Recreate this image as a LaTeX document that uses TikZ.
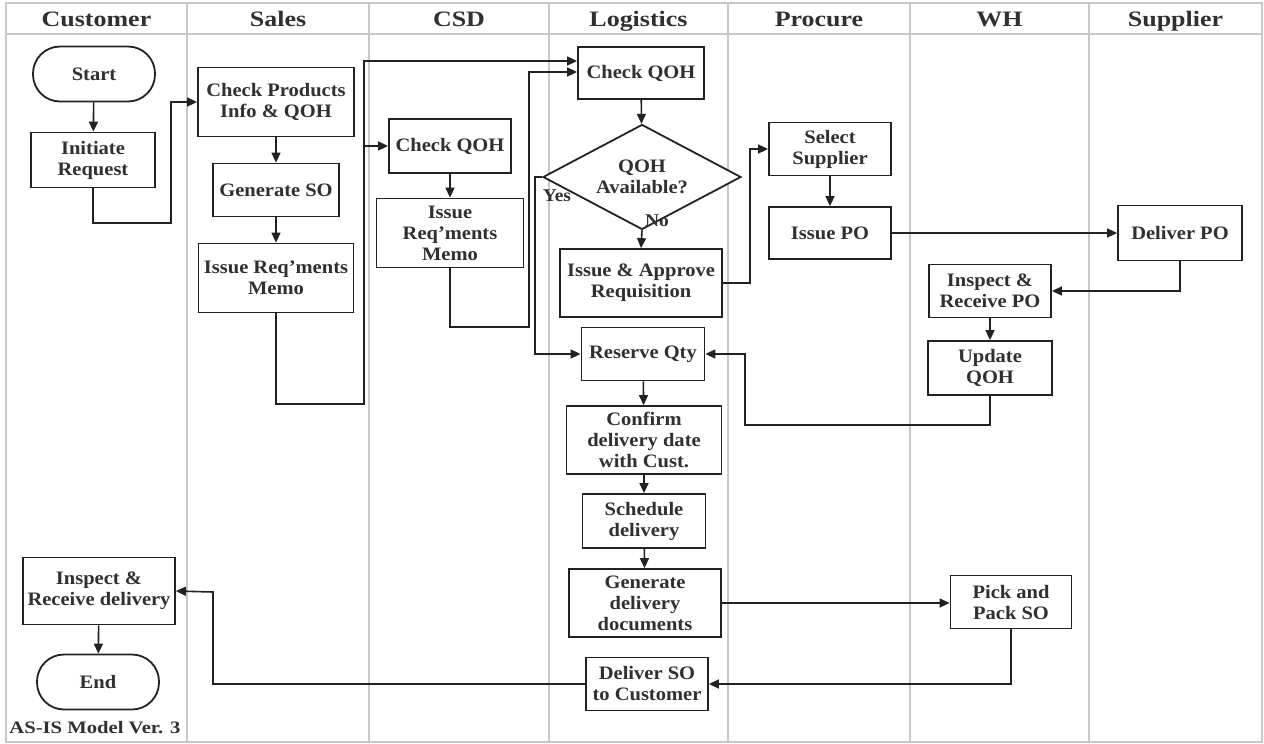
\documentclass[tikz,border=0pt]{standalone}
\usepackage{fontspec}
\setmainfont{Liberation Serif}[FakeStretch=1.08]
\newfontfamily\hdrfont{Liberation Serif}[FakeStretch=1.18]
\usetikzlibrary{arrows.meta,shapes.geometric}
\definecolor{linecol}{HTML}{222222}
\definecolor{textcol}{HTML}{303030}
\definecolor{lanecol}{HTML}{C8C8C8}
\newcommand{\boxfont}{\fontsize{19}{21}\selectfont\bfseries}
\tikzset{
  x=1pt, y=-1pt,
  lane/.style={draw=lanecol, line width=1.6pt},
  hdr/.style={text=textcol, anchor=base, font=\hdrfont\fontsize{22}{24}\selectfont\bfseries},
  box/.style={draw=linecol, fill=white, line width=1.8pt, rectangle, inner sep=0pt,
    align=center, text=textcol, font=\boxfont},
  term/.style={box, rounded corners=27pt},
  decision/.style={box, diamond, aspect=1.9},
  lbl/.style={text=textcol, font=\fontsize{18}{20}\selectfont\bfseries},
  flow/.style={draw=linecol, line width=1.6pt, -{Triangle[length=10pt,width=9pt]}}
}
\begin{document}
\begin{tikzpicture}
\useasboundingbox (0,0) rectangle (1264,744);

% swim lanes and header row
\draw[lane] (6,3) rectangle (1262,742);
\draw[lane] (6,34) -- (1262,34);
\foreach \lx in {187,369,549,728,910,1089} \draw[lane] (\lx,3) -- (\lx,742);
\node[hdr] (hcust) at (96.5,27) {Customer};
\node[hdr] (hsales) at (278,27) {Sales};
\node[hdr] (hcsd) at (459,27) {CSD};
\node[hdr] (hlog) at (638.5,27) {Logistics};
\node[hdr] (hproc) at (819,27) {Procure};
\node[hdr] (hwh) at (999.5,27) {WH};
\node[hdr] (hsup) at (1175.5,27) {Supplier};

% Customer
\node[term, minimum width=122pt, minimum height=55pt] (start) at (94,74) {Start};
\node[box, minimum width=124pt, minimum height=55pt] (init) at (93,160) {Initiate\\Request};
\node[box, minimum width=152pt, minimum height=67pt] (ird) at (99,591) {Inspect \&\\Receive delivery};
\node[term, minimum width=122pt, minimum height=55pt] (end) at (98,682) {End};
\node[lbl, font=\hdrfont\fontsize{17.5}{19}\selectfont\bfseries] (ver) at (95,728) {AS-IS Model Ver. 3};

% Sales
\node[box, minimum width=156pt, minimum height=69pt] (chk) at (276,102) {Check Products\\Info \& QOH};
\node[box, minimum width=126pt, minimum height=53pt] (gen) at (276,190) {Generate SO};
\node[box, minimum width=155pt, minimum height=69pt] (memo) at (276,278) {Issue Req'ments\\Memo};

% CSD
\node[box, minimum width=122pt, minimum height=54pt] (cchk) at (450,146) {Check QOH};
\node[box, minimum width=147pt, minimum height=69pt] (cmemo) at (450,233) {Issue\\Req'ments\\Memo};

% Logistics
\node[box, minimum width=126pt, minimum height=52pt] (lchk) at (641,73) {Check QOH};
\node[decision, minimum width=198pt, minimum height=105pt] (dec) at (642,177) {QOH\\Available?};
\node[box, minimum width=162pt, minimum height=68pt] (iss) at (641,283) {Issue \& Approve\\Requisition};
\node[box, minimum width=123pt, minimum height=53pt] (rsv) at (643,354) {Reserve Qty};
\node[box, minimum width=155pt, minimum height=68pt] (conf) at (644,440) {Confirm\\delivery date\\with Cust.};
\node[box, minimum width=123pt, minimum height=54pt] (sched) at (644,521) {Schedule\\delivery};
\node[box, minimum width=152pt, minimum height=68pt] (gendoc) at (645,603) {Generate\\delivery\\documents};
\node[box, minimum width=122pt, minimum height=53pt] (dso) at (647,684) {Deliver SO\\to Customer};

% Procure
\node[box, minimum width=122pt, minimum height=53pt] (sel) at (830,149) {Select\\Supplier};
\node[box, minimum width=122pt, minimum height=52pt] (ipo) at (830,233) {Issue PO};

% WH
\node[box, minimum width=122pt, minimum height=53pt] (irp) at (990,291) {Inspect \&\\Receive PO};
\node[box, minimum width=124pt, minimum height=54pt] (uqoh) at (990,368) {Update\\QOH};
\node[box, minimum width=121pt, minimum height=53pt] (pick) at (1011,602) {Pick and\\Pack SO};

% Supplier
\node[box, minimum width=124pt, minimum height=55pt] (dpo) at (1180,233) {Deliver PO};

% bend points of the routed connectors
\coordinate (b1) at (171,223);
\coordinate (b2) at (171,102);
\coordinate (b3) at (276,404);
\coordinate (b4) at (364,404);
\coordinate (b5) at (364,61);
\coordinate (b6) at (364,146);
\coordinate (b7) at (529,327);
\coordinate (b8) at (529,72);
\coordinate (b9) at (535,177);
\coordinate (b10) at (750,149);
\coordinate (b11) at (745,425);
\coordinate (b12) at (213,592);

% connectors
\draw[flow] (start) -- (init);
\draw[flow] (init.south) |- (b1) -- (b2) -- (chk.west);
\draw[flow] (chk) -- (gen);
\draw[flow] (gen) -- (memo);
\draw[flow] (memo.south) -- (b3) -- (b4) -- (b5) -- (lchk.west |- b5);
\draw[flow] (b6) -- (cchk.west);
\draw[flow] (cchk) -- (cmemo);
\draw[flow] (cmemo.south) |- (b7) -- (b8) -- (lchk.west |- b8);
\draw[flow] (lchk) -- (dec);
\draw[flow] (dec.south) -- (iss.north);
\draw[flow] (dec.west) -- (b9) |- (rsv.west);
\draw[flow] (iss.east) -| (b10) -- (sel.west);
\draw[flow] (sel) -- (ipo);
\draw[flow] (ipo) -- (dpo);
\draw[flow] (dpo.south) |- (irp.east);
\draw[flow] (irp) -- (uqoh);
\draw[flow] (uqoh.south) |- (b11) |- (rsv.east);
\draw[flow] (rsv) -- (conf);
\draw[flow] (conf) -- (sched);
\draw[flow] (sched) -- (gendoc);
\draw[flow] (gendoc.east) -- (pick.west |- gendoc.east);
\draw[flow] (pick.south) |- (dso.east);
\draw[flow] (dso.west) -| (b12) -- (ird.east);
\draw[flow] (ird) -- (end);

% decision labels
\node[lbl] (yes) at (557,196) {Yes};
\node[lbl] (no) at (657,221) {No};
\end{tikzpicture}
\end{document}
